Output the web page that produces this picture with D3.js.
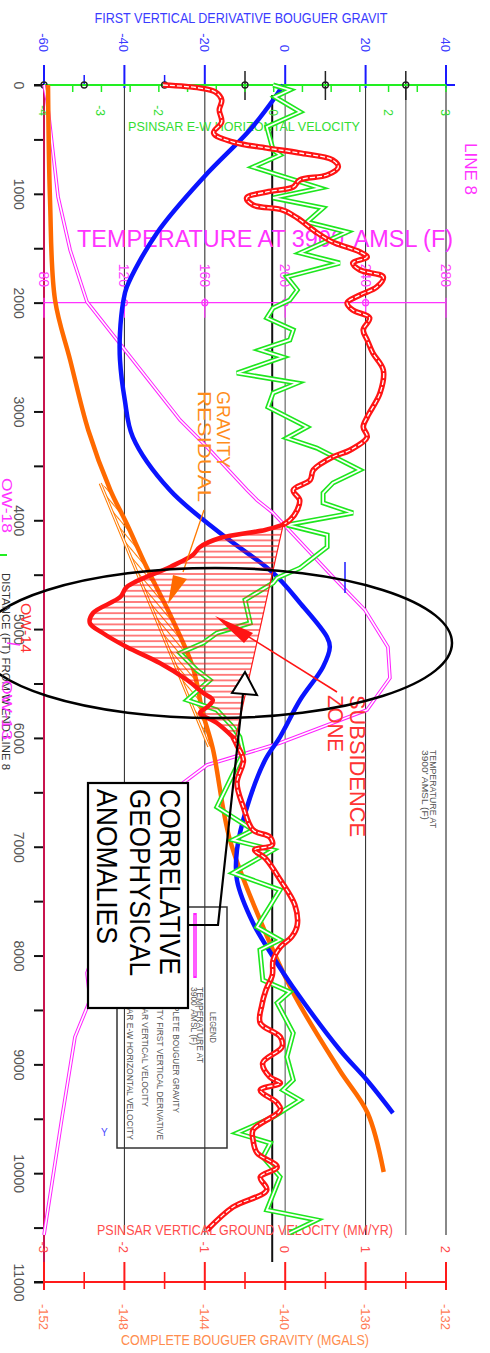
<!DOCTYPE html>
<html><head><meta charset="utf-8">
<script src="https://cdn.jsdelivr.net/npm/d3@7"></script>
<style>
body{margin:0;background:#fff;}
text{font-family:"Liberation Sans",Arial,sans-serif;}
</style></head><body>
<svg id="chart" width="490" height="1353"></svg>
<script>
// ---- axis ticks ----
const distanceLabels = [0,1000,2000,3000,4000,5000,6000,7000,8000,9000,10000,11000];
const distanceTicks = [0,500,1000,1500,2000,2500,3000,3500,4000,4500,5000,5500,6000,6500,7000,7500,8000,8500,9000,9500,10000,10500,11000];
const fvdTicks = [-60,-40,-20,0,20,40];
const ewTicks = [-4,-3,-2,0,2,3];
const ewMinorTicks = [-3.5,-3,-2.5,-2,-1.5,-1,-0.5,0,0.5,1,1.5,2,2.5,3];
const tempTicks = [80,120,160,200,240,280];
const vvTicks = [-3,-2,-1,0,1,2];
const gravTicks = [-152,-148,-144,-140,-136,-132];

// ---- series: [distance (ft), value] ----
const fvdSeries = [[0,-0.5],[138,-3.0],[414,-8.8],[845,-20.2],[1360,-31.9],[1856,-39.4],[1994,-40.3],[2279,-41.1],[2527,-41.1],[2895,-39.9],[3235,-37.9],[3722,-28.7],[4117,-16.2],[4484,-3.0],[4760,3.7],[5073,10.4],[5165,11.1],[5348,9.4],[5652,3.7],[5992,-1.3],[6203,-5.0],[6635,-9.5],[7030,-12.0],[7306,-12.0],[7701,-8.0],[8013,-3.0],[8289,1.9],[8868,13.6],[9144,20.3],[9447,26.8]];

const gravSeries = [[0,-151.8],[1057,-151.7],[1976,-151.45],[2527,-150.7],[3170,-149.8],[3722,-148.7],[4025,-147.9],[4429,-146.9],[4916,-145.6],[5348,-144.6],[5771,-144.1],[6100,-143.6],[6938,-142.75],[7673,-141.25],[8344,-139.6],[9052,-137.3],[9447,-135.9],[9989,-135.1]];
const gravRegional = [[3660,-149.2],[6080,-143.8]];

const tempSeries = [[0,80],[138,81.5],[1029,87],[1516,93],[1994,101.4],[2647,129.3],[3079,147.7],[3327,161.1],[3722,181],[3814,186],[3933,194],[4521,223.8],[4825,239.7],[5165,251.1],[5449,252.1],[5743,240.7],[6047,197.4],[6249,161.1],[6414,149.2],[6754,127.8],[8160,101.4],[8409,102.9],[8748,95.4],[9484,89],[10568,80]];

const ewSeries = [[0,-0.01],[46,0.28],[110,0.02],[248,0.46],[386,-0.12],[597,-0.01],[643,0.11],[754,-0.36],[947,0.81],[1038,-0.01],[1130,0.86],[1259,0.58],[1351,1.28],[1544,0.46],[1636,1.15],[1764,0.23],[1884,0.41],[1976,0.28],[2049,-0.01],[2141,-0.12],[2251,0.34],[2343,0.28],[2435,-0.24],[2500,0.16],[2647,-0.64],[2739,0.41],[2830,-0.01],[2959,-0.10],[3143,0.58],[3244,0.23],[3336,0.75],[3538,1.50],[3658,1.03],[3750,0.86],[3841,0.86],[3933,1.38],[4043,0.23],[4135,0.93],[4246,0.93],[4438,0.46],[4530,0.06],[4576,-0.01],[4732,-0.50],[4944,-0.41],[5036,-0.99],[5128,-1.23],[5220,-1.63],[5376,-1.34],[5468,-1.11],[5652,-1.51],[5743,-0.99],[5900,-0.71],[5992,-0.59],[6139,-0.53],[6635,-0.99],[6846,-0.36],[6938,-0.71],[7030,-0.01],[7241,-0.71],[7397,0.11],[7738,-0.29],[7857,0.11],[7949,-0.24],[8225,-0.19],[8335,0.28],[8436,0.06],[8712,0.34],[8932,0.23],[9144,0.34],[9236,0.16],[9328,0.46],[9484,-0.01],[9631,-0.64],[9723,-0.06],[9851,-0.19],[10035,0.11],[10338,-0.12],[10430,0.75],[10550,0.28]];

const vvSeries = [[0,-1.52],[28,-1.06],[64,-0.87],[138,-0.79],[230,-0.82],[340,-0.79],[441,-0.89],[524,-0.65],[579,-0.23],[625,0.18],[689,0.59],[754,0.66],[827,0.52],[873,0.18],[937,0.10],[983,-0.23],[1038,-0.48],[1103,-0.40],[1149,-0.03],[1222,0.15],[1360,0.40],[1443,0.59],[1535,0.93],[1581,1.02],[1636,0.84],[1700,0.93],[1764,1.22],[1856,1.14],[1930,0.93],[2003,0.77],[2068,0.84],[2141,1.05],[2251,0.97],[2343,1.02],[2463,1.09],[2619,1.22],[2830,1.18],[3051,1.02],[3143,0.97],[3235,1.02],[3354,0.81],[3419,0.59],[3538,0.35],[3630,0.31],[3722,0.10],[3814,0.18],[3906,0.15],[3998,0.06],
[4043,-0.03],[4089,-0.25],[4163,-0.81],[4246,-1.06],[4319,-1.15],[4429,-1.43],[4613,-1.97],[4705,-2.05],[4852,-2.39],[4944,-2.43],[5036,-2.27],[5165,-1.97],[5312,-1.56],[5468,-1.22],[5587,-1.02],[5652,-0.90],[5716,-0.97],[5771,-1.06],[5863,-0.85],[5992,-0.65],
[6065,-0.60],[6203,-0.52],[6414,-0.60],[6635,-0.52],[6846,-0.40],[6911,-0.19],[6984,-0.16],[7030,-0.38],[7104,-0.25],[7306,-0.06],[7535,0.12],[7719,0.15],[7829,0.08],[7921,-0.06],[8041,-0.15],[8179,-0.16],[8317,-0.24],[8454,-0.29],[8620,-0.31],[8749,-0.06],[8840,-0.04],[8987,-0.28],[9116,-0.19],[9171,-0.06],[9236,-0.31],[9355,-0.10],[9419,-0.06],[9603,-0.40],[9695,-0.40],[9814,-0.35],[9943,-0.10],[10035,-0.31],[10155,-0.23],[10311,-0.65],[10522,-0.97]];
// distance span of the subsidence anomaly and its straight baseline
const subsidenceSpan = [4043, 5992];
const subsidenceBase = [[4025,-0.02],[6010,-0.62]];

// ---- scales ----
const yDist = d3.scaleLinear().domain([0,11000]).range([85,1282]);
const xFvd = d3.scaleLinear().domain([-60,40]).range([44,446]);
const xGrav = d3.scaleLinear().domain([-152,-132]).range([44,446]);
const xVv = d3.scaleLinear().domain([-3,2]).range([44,446]);
const xEw = d3.scaleLinear().domain([-4,3]).range([44,446]);
const xTemp = d3.scaleLinear().domain([80,280]).range([44,446]);

const svg = d3.select("#chart");
const defs = svg.append("defs");
defs.append("pattern").attr("id","hatchRed").attr("patternUnits","userSpaceOnUse")
  .attr("width",8).attr("height",5.6)
  .append("line").attr("x1",0).attr("x2",8).attr("y1",2.8).attr("y2",2.8)
  .attr("stroke","#ff1a1a").attr("stroke-width",1.1);
defs.append("pattern").attr("id","hatchOrange").attr("patternUnits","userSpaceOnUse")
  .attr("width",5).attr("height",5).attr("patternTransform","rotate(50)")
  .append("line").attr("x1",0).attr("x2",5).attr("y1",2.5).attr("y2",2.5)
  .attr("stroke","#ff7a00").attr("stroke-width",1);

function vText(x, y, str, size, fill, len, anchor) {
  const t = svg.append("text").attr("transform",`translate(${x},${y}) rotate(90)`)
    .attr("font-size",size).attr("fill",fill).attr("text-anchor",anchor||"start").text(str);
  if (len) t.attr("textLength",len).attr("lengthAdjust","spacingAndGlyphs");
  return t;
}
function hText(x, y, str, size, fill, len) {
  const t = svg.append("text").attr("x",x).attr("y",y).attr("font-size",size)
    .attr("fill",fill).attr("text-anchor","middle").text(str);
  if (len) t.attr("textLength",len).attr("lengthAdjust","spacingAndGlyphs");
  return t;
}
function vline(x, y1, y2, color, w) {
  svg.append("line").attr("x1",x).attr("x2",x).attr("y1",y1).attr("y2",y2)
    .attr("stroke",color).attr("stroke-width",w);
}

// ---- vertical grid ----
const grid = [[xFvd(-40),"#222",1],[xFvd(-20),"#444",1.2],[xFvd(0),"#888",1.5],[xFvd(20),"#222",1],[xFvd(30),"#888",1.6],[xFvd(40),"#888",2]];
grid.forEach(g => vline(g[0], 88, 1235, g[1], g[2]));
vline(xEw(0)-1.5, 95, 1262, "#111", 2);

// ---- distance axis (left) ----
const leftAxis = svg.append("g").attr("transform","translate(44,0)")
  .call(d3.axisLeft(yDist).tickValues(distanceTicks).tickSize(10)
    .tickFormat(d => distanceLabels.includes(d) ? d : ""));
leftAxis.select(".domain").remove();
leftAxis.selectAll(".tick line").attr("stroke","#111").attr("stroke-width",2);
leftAxis.selectAll(".tick text").attr("x",null).attr("dy",null)
  .attr("transform","translate(-30,0) rotate(90)").attr("text-anchor","middle")
  .attr("font-size",14).attr("fill","#555").attr("font-family","Liberation Sans, Arial, sans-serif");
vline(44, 85, 1282, "#c8144e", 2);

// ---- top: first vertical derivative axis + E-W velocity axis ----
hText(241, 23, "FIRST VERTICAL DERIVATIVE BOUGUER GRAVIT", 14, "#3b3bff", 293);
fvdTicks.forEach(v => {
  vline(xFvd(v), 65, 88, "#1a1aff", 2);
  vText(xFvd(v)-5, 52, String(v), 13, "#3b3bff", null, "end");
});
[-50,-30].forEach(v => vline(xFvd(v), 75, 86, "#1a1aff", 1.5));
[-10,10,30].forEach(v => vline(xFvd(v), 71, 100, "#222", 1.5));
svg.append("line").attr("x1",34).attr("x2",455).attr("y1",85).attr("y2",85).attr("stroke","#22ee22").attr("stroke-width",2.2);
svg.append("line").attr("x1",34).attr("x2",44).attr("y1",85).attr("y2",85).attr("stroke","#111").attr("stroke-width",2);
svg.append("line").attr("x1",446).attr("x2",455).attr("y1",85).attr("y2",85).attr("stroke","#1a1aff").attr("stroke-width",2);
ewMinorTicks.forEach(v => vline(xEw(v), 85, 92, "#22ee22", 1.5));
[-60,-50,-30,-10,10,30].forEach(v => svg.append("circle").attr("cx",xFvd(v)).attr("cy",85).attr("r",3)
  .attr("fill","none").attr("stroke","#222").attr("stroke-width",1.3));
ewTicks.forEach(v => vText(xEw(v)-5, 116, String(v), 12, "#33dd33", null, "end"));
hText(244, 131, "PSINSAR E-W HORIZONTAL VELOCITY", 13, "#33dd33", 232);

// ---- temperature axis at 2000 ft ----
const tY = yDist(2000);
svg.append("line").attr("x1",44).attr("x2",446).attr("y1",tY).attr("y2",tY).attr("stroke","#ff33ff").attr("stroke-width",1.2);
tempTicks.forEach((v,i) => {
  vline(xTemp(v), tY-5, tY+15, "#ff33ff", 1.2);
  if (i>0 && i<tempTicks.length-1) svg.append("circle").attr("cx",xTemp(v)).attr("cy",tY).attr("r",3)
    .attr("fill","none").attr("stroke","#ff33ff").attr("stroke-width",1.2);
  vText(xTemp(v)-5, 287, String(v), 14, "#ff44ff", null, "end");
});
hText(265, 247, "TEMPERATURE AT 3900' AMSL (F)", 23, "#ff33ff", 376);
vText(465, 143, "LINE 8", 16, "#ff33ff", 52);

// ---- bottom axes ----
hText(245, 1235, "PSINSAR VERTICAL GROUND VELOCITY (MM/YR)", 14, "#ff4d4d", 296);
vvTicks.forEach(v => vText(xVv(v)-5, 1253, String(v), 13, "#ff4d4d", null, "end"));
svg.append("line").attr("x1",34).attr("x2",446).attr("y1",1282).attr("y2",1282).attr("stroke","#ff1a1a").attr("stroke-width",2);
svg.append("line").attr("x1",34).attr("x2",44).attr("y1",1282).attr("y2",1282).attr("stroke","#111").attr("stroke-width",2);
gravTicks.forEach(v => vline(xGrav(v), 1262, 1290, "#ff1a1a", 2));
[-150,-146,-142,-138,-134].forEach(v => vline(xGrav(v), 1272, 1289, "#ff1a1a", 1.6));
gravTicks.forEach(v => vText(xGrav(v)-5, 1330, String(v), 13, "#ff7a55", null, "end"));
hText(245, 1345, "COMPLETE BOUGUER GRAVITY (MGALS)", 14, "#ff8c4d", 248);

// ---- line generators ----
const smooth = (xs) => d3.line().x(p => xs(p[1])).y(p => yDist(p[0])).curve(d3.curveCatmullRom.alpha(0.5));
const straight = (xs) => d3.line().x(p => xs(p[1])).y(p => yDist(p[0]));

// temperature (double magenta line)
const tPath = straight(xTemp)(tempSeries);
svg.append("path").attr("d",tPath).attr("fill","none").attr("stroke","#ff22ff").attr("stroke-width",3.6);
svg.append("path").attr("d",tPath).attr("fill","none").attr("stroke","#fff").attr("stroke-width",1.6);

// gravity residual band
const gLine = smooth(xGrav);
const bandPts = gravSeries.filter(p => p[0] >= gravRegional[0][0] && p[0] <= gravRegional[1][0]);
const bandD = gLine(bandPts) + "L" + xGrav(gravRegional[1][1]) + "," + yDist(gravRegional[1][0]) +
  "L" + xGrav(gravRegional[0][1]) + "," + yDist(gravRegional[0][0]) + "Z";
svg.append("path").attr("d",bandD).attr("fill","url(#hatchOrange)").attr("stroke","none");
const regD = straight(xGrav)(gravRegional);
svg.append("path").attr("d",regD).attr("fill","none").attr("stroke","#ff7a00").attr("stroke-width",3.2);
svg.append("path").attr("d",regD).attr("fill","none").attr("stroke","#fff").attr("stroke-width",1.2);

// complete bouguer gravity
svg.append("path").attr("d",gLine(gravSeries)).attr("fill","none").attr("stroke","#ff6a00").attr("stroke-width",4.5);

// first vertical derivative
svg.append("path").attr("d",smooth(xFvd)(fvdSeries)).attr("fill","none").attr("stroke","#0a14ff").attr("stroke-width",4.5);

// E-W horizontal velocity (double green line)
const ewD = straight(xEw)(ewSeries);
svg.append("path").attr("d",ewD).attr("fill","none").attr("stroke","#1ee61e").attr("stroke-width",5);
svg.append("path").attr("d",ewD).attr("fill","none").attr("stroke","#fff").attr("stroke-width",1.8);

// vertical ground velocity
const vvLine = smooth(xVv);
const north = vvSeries.filter(p => p[0] <= subsidenceSpan[0]);
const subs = vvSeries.filter(p => p[0] >= subsidenceSpan[0] && p[0] <= subsidenceSpan[1]);
const south = vvSeries.filter(p => p[0] >= subsidenceSpan[1]);
const subsD = vvLine(subs);
const polyD = subsD + "L" + xVv(subsidenceBase[1][1]) + "," + yDist(subsidenceBase[1][0]) +
  "L" + xVv(subsidenceBase[0][1]) + "," + yDist(subsidenceBase[0][0]) + "Z";
svg.append("path").attr("d",polyD).attr("fill","url(#hatchRed)").attr("stroke","#ff1a1a").attr("stroke-width",1.2);
[north, south].forEach(seg => {
  const d = vvLine(seg);
  svg.append("path").attr("d",d).attr("fill","none").attr("stroke","#ff1414").attr("stroke-width",5.6);
  svg.append("path").attr("d",d).attr("fill","none").attr("stroke","#fff").attr("stroke-width",1.3).attr("stroke-dasharray","5,2");
});
svg.append("path").attr("d",subsD).attr("fill","none").attr("stroke","#ff1414").attr("stroke-width",4.5).attr("stroke-linecap","round");

// ---- annotations ----
vText(217, 391, "GRAVITY", 19, "#ff8c1a", 77);
vText(198, 391, "RESIDUAL", 19, "#ff8c1a", 111);
svg.append("line").attr("x1",204).attr("y1",510).attr("x2",183).attr("y2",572).attr("stroke","#ff7a00").attr("stroke-width",1.3);
svg.append("polygon").attr("points","173,575 187,579 168,604").attr("fill","#ff6a00");

vline(345, 562, 593, "#1a1aff", 1.5);

// subsidence leader + arrowhead
svg.append("line").attr("x1",337).attr("y1",692).attr("x2",222).attr("y2",620).attr("stroke","#ff1414").attr("stroke-width",1.5);
svg.append("polygon").attr("points","215,616 253,633 244,643").attr("fill","#ff1414");
vText(350, 695, "SUBSIDENCE", 22, "#ff3333", 142);
vText(328, 695, "ZONE", 22, "#ff3333", 57);

// ellipse around the anomaly
svg.append("ellipse").attr("cx",215).attr("cy",643).attr("rx",237).attr("ry",75)
  .attr("fill","none").attr("stroke","#000").attr("stroke-width",2.5);

vText(430, 750, "TEMPERATURE AT", 9, "#555", 78);
vText(422, 750, "3900' AMSL (F)", 9, "#555", 70);

// legend box
svg.append("rect").attr("x",117).attr("y",907).attr("width",110).attr("height",241)
  .attr("fill","none").attr("stroke","#333").attr("stroke-width",1.5);
vText(210, 1012, "LEGEND", 9, "#555", 31);
vline(195, 913, 978, "#ff22ff", 3.5);
vline(195, 915, 976, "#ff99ff", 1);
vText(197, 987, "TEMPERATURE AT", 8.5, "#555", 76);
vText(191, 987, "3900' AMSL (F)", 8.5, "#555", 58);
vText(173, 1113, "COMPLETE BOUGUER GRAVITY", 8.5, "#555", 126, "end");
vText(157, 1140, "GRAVITY FIRST VERTICAL DERIVATIVE", 8.5, "#555", 156, "end");
vText(142, 1107, "PSINSAR VERTICAL VELOCITY", 8.5, "#555", 124, "end");
vText(127, 1140, "PSINSAR E-W HORIZONTAL VELOCITY", 8.5, "#555", 157, "end");
svg.append("text").attr("x",101).attr("y",1136).attr("font-size",10).attr("fill","#4d4dff").text("Y");

// callout box and arrow
svg.append("polyline").attr("points","188,925 218,925 243,694").attr("fill","none").attr("stroke","#000").attr("stroke-width",2.2);
svg.append("polygon").attr("points","245,672 232,693 257,695").attr("fill","#fff").attr("stroke","#000").attr("stroke-width",2);
svg.append("rect").attr("x",88).attr("y",783).attr("width",100).attr("height",225)
  .attr("fill","#fff").attr("stroke","#000").attr("stroke-width",2.2);
vText(160, 789, "CORRELATIVE", 29, "#000", 186);
vText(130, 789, "GEOPHYSICAL", 29, "#000", 187);
vText(97, 789, "ANOMALIES", 29, "#000", 155);

// well labels and distance title
vText(2, 478, "OW-18", 14, "#ff33ff", 55);
svg.append("line").attr("x1",0).attr("x2",7).attr("y1",555).attr("y2",555).attr("stroke","#22ee22").attr("stroke-width",2);
vText(2, 573, "DISTANCE (FT) FROM W END LINE 8", 11, "#333", 197);
vText(21, 603, "OW-14", 15, "#ff3333", 50);
svg.append("line").attr("x1",7).attr("y1",643).attr("x2",20).attr("y2",645).attr("stroke","#ff33ff").attr("stroke-width",1.5);
vText(2, 680, "OW-13", 14, "#ff33ff", 60);
</script>
</body></html>
